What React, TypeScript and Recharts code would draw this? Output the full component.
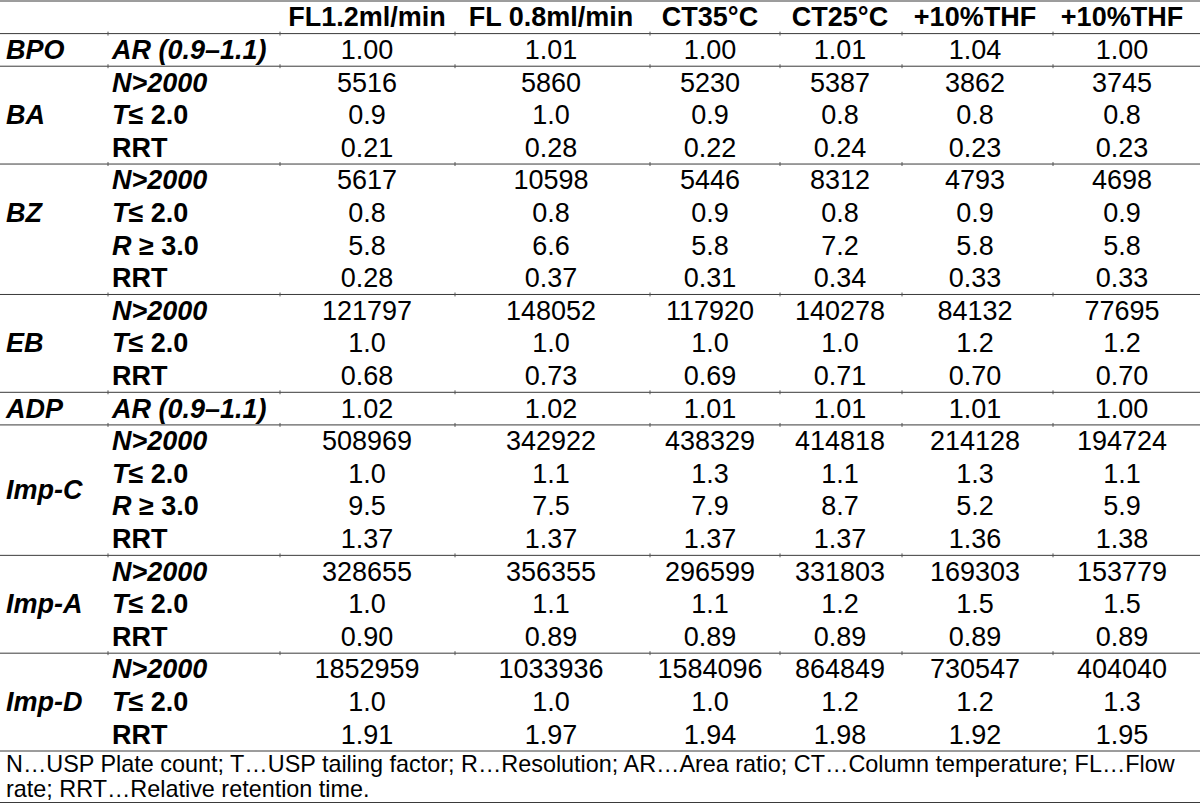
import React from 'react';
import { ReferenceLine, Scatter, ScatterChart, XAxis, YAxis } from 'recharts';

// column headings (test conditions)
const conditions = ['FL1.2ml/min', 'FL 0.8ml/min', 'CT35°C', 'CT25°C', '+10%THF', '+10%THF'];

const compounds = ['BPO', 'BA', 'BZ', 'EB', 'ADP', 'Imp-C', 'Imp-A', 'Imp-D'];

type ParamRow = [string, string[]];

const bpo: ParamRow[] = [['AR', ['1.00', '1.01', '1.00', '1.01', '1.04', '1.00']]];

const ba: ParamRow[] = [
  ['N', ['5516', '5860', '5230', '5387', '3862', '3745']],
  ['T', ['0.9', '1.0', '0.9', '0.8', '0.8', '0.8']],
  ['RRT', ['0.21', '0.28', '0.22', '0.24', '0.23', '0.23']],
];

const bz: ParamRow[] = [
  ['N', ['5617', '10598', '5446', '8312', '4793', '4698']],
  ['T', ['0.8', '0.8', '0.9', '0.8', '0.9', '0.9']],
  ['R', ['5.8', '6.6', '5.8', '7.2', '5.8', '5.8']],
  ['RRT', ['0.28', '0.37', '0.31', '0.34', '0.33', '0.33']],
];

const eb: ParamRow[] = [
  ['N', ['121797', '148052', '117920', '140278', '84132', '77695']],
  ['T', ['1.0', '1.0', '1.0', '1.0', '1.2', '1.2']],
  ['RRT', ['0.68', '0.73', '0.69', '0.71', '0.70', '0.70']],
];

const adp: ParamRow[] = [['AR', ['1.02', '1.02', '1.01', '1.01', '1.01', '1.00']]];

const impC: ParamRow[] = [
  ['N', ['508969', '342922', '438329', '414818', '214128', '194724']],
  ['T', ['1.0', '1.1', '1.3', '1.1', '1.3', '1.1']],
  ['R', ['9.5', '7.5', '7.9', '8.7', '5.2', '5.9']],
  ['RRT', ['1.37', '1.37', '1.37', '1.37', '1.36', '1.38']],
];

const impA: ParamRow[] = [
  ['N', ['328655', '356355', '296599', '331803', '169303', '153779']],
  ['T', ['1.0', '1.1', '1.1', '1.2', '1.5', '1.5']],
  ['RRT', ['0.90', '0.89', '0.89', '0.89', '0.89', '0.89']],
];

const impD: ParamRow[] = [
  ['N', ['1852959', '1033936', '1584096', '864849', '730547', '404040']],
  ['T', ['1.0', '1.0', '1.0', '1.2', '1.2', '1.3']],
  ['RRT', ['1.91', '1.97', '1.94', '1.98', '1.92', '1.95']],
];

const groups = [bpo, ba, bz, eb, adp, impC, impA, impD];

// which row of the group carries the compound name (1.5 = between rows 2 and 3)
const nameRows = [0, 1, 1, 1, 0, 1.5, 1, 1];

// parameter label: [italic part, upright part]
const paramLabels: Record<string, [string, string]> = {
  AR: ['AR (0.9–1.1)', ''],
  N: ['N>2000', ''],
  T: ['T', '≤ 2.0'],
  R: ['R', ' ≥ 3.0'],
  RRT: ['', 'RRT'],
};

const footnote = [
  'N…USP Plate count; T…USP tailing factor; R…Resolution; AR…Area ratio; CT…Column temperature; FL…Flow',
  'rate; RRT…Relative retention time.',
];

// layout
const WIDTH = 1200;
const ROW_H = 32.6;
const FONT = '"Liberation Sans", Arial, Helvetica, sans-serif';
const FONT_SIZE = 27;
const nameX = 6;
const paramX = 112;
const conditionX = [367, 551, 710, 840, 975, 1122];
const columnEdges = [108, 280, 455, 650, 780, 902, 1053];

type Cell = { x: number; y: number; text: string; role: 'head' | 'name' | 'param' | 'value' };

const cells: Cell[] = [];
conditions.forEach((c, i) => cells.push({ x: conditionX[i], y: 0, text: c, role: 'head' }));
const boundaries: number[] = [-0.5, 0.5];
let row = 1;
groups.forEach((g, gi) => {
  cells.push({ x: nameX, y: row + nameRows[gi], text: compounds[gi], role: 'name' });
  g.forEach(([param, vals]) => {
    cells.push({ x: paramX, y: row, text: param, role: 'param' });
    vals.forEach((v, ci) => cells.push({ x: conditionX[ci], y: row, text: v, role: 'value' }));
    row += 1;
  });
  boundaries.push(row - 0.5);
});
const rowCount = row;

const renderCell = (props: any) => {
  const { cx, cy, payload } = props;
  const c = payload as Cell;
  const base = {
    y: cy,
    dominantBaseline: 'central' as const,
    fontFamily: FONT,
    fontSize: FONT_SIZE,
    fill: '#000',
  };
  if (c.role === 'head') {
    return (
      <text {...base} x={cx} textAnchor="middle" fontWeight="bold">
        {c.text}
      </text>
    );
  }
  if (c.role === 'name') {
    return (
      <text {...base} x={cx} textAnchor="start" fontWeight="bold" fontStyle="italic">
        {c.text}
      </text>
    );
  }
  if (c.role === 'param') {
    const [it, up] = paramLabels[c.text];
    return (
      <text {...base} x={cx} textAnchor="start" fontWeight="bold">
        {it && <tspan fontStyle="italic">{it}</tspan>}
        {up && <tspan>{up}</tspan>}
      </text>
    );
  }
  return (
    <text {...base} x={cx} textAnchor="middle">
      {c.text}
    </text>
  );
};

export default function App() {
  const chartHeight = Math.round(rowCount * ROW_H) + 2;
  return (
    <div style={{ position: 'absolute', left: 0, top: 0, width: WIDTH, background: '#fff' }}>
      <ScatterChart width={WIDTH} height={chartHeight} margin={{ top: 1, right: 0, bottom: 1, left: 0 }}>
        <XAxis type="number" dataKey="x" domain={[0, WIDTH]} allowDataOverflow hide />
        <YAxis type="number" dataKey="y" domain={[-0.5, rowCount - 0.5]} allowDataOverflow reversed hide />
        {boundaries.map((b) => (
          <ReferenceLine key={`h${b}`} y={b} stroke="#3a3a3a" strokeWidth={1} />
        ))}
        {boundaries.map((b) =>
          columnEdges.map((e) => (
            <ReferenceLine
              key={`t${b}-${e}`}
              segment={[
                { x: e, y: b - 0.06 },
                { x: e, y: b + 0.06 },
              ]}
              stroke="#555"
              strokeWidth={1}
            />
          )),
        )}
        <Scatter data={cells} shape={renderCell} isAnimationActive={false} />
      </ScatterChart>
      <div
        style={{
          fontFamily: FONT,
          fontSize: 23.4,
          lineHeight: '25px',
          color: '#000',
          padding: '1px 0 0 6px',
          borderBottom: '1px solid #3a3a3a',
          whiteSpace: 'nowrap',
          marginTop: -1,
        }}
      >
        {footnote.map((f) => (
          <div key={f}>{f}</div>
        ))}
      </div>
    </div>
  );
}
